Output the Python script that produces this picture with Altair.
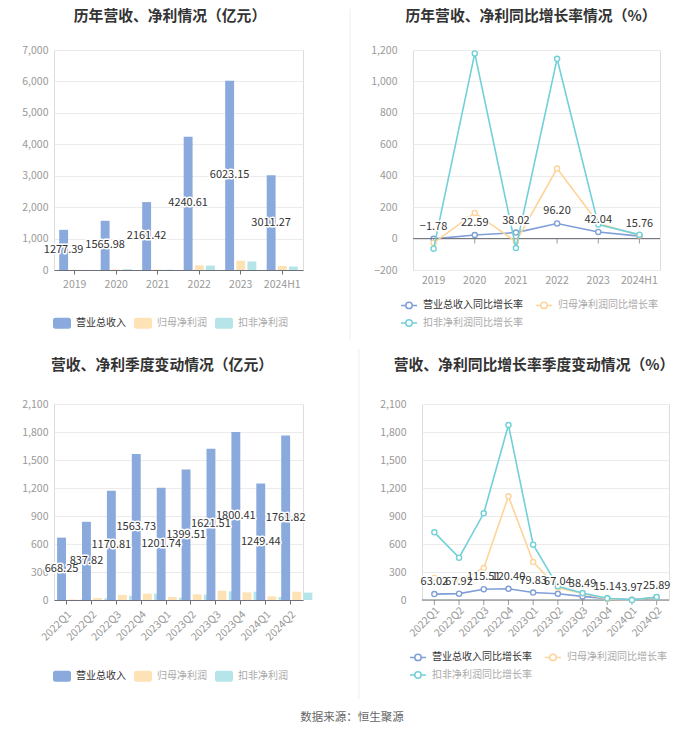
import altair as alt
import pandas as pd

FONT = "Noto Sans CJK SC"

# ---------------- data ----------------
years = ["2019", "2020", "2021", "2022", "2023", "2024H1"]
rev = [1277.39, 1565.98, 2161.42, 4240.61, 6023.15, 3011.27]
net_profit = [6.5, 17, 13, 150, 295, 130]
deducted_profit = [2.2, 28, 11, 140, 270, 110]

rev_growth = [-1.78, 22.59, 38.02, 96.20, 42.04, 15.76]
net_growth = [-28, 163, -20, 446, 97, 20]
deducted_growth = [-64, 1178, -60, 1144, 89, 25]

quarters = ["2022Q1", "2022Q2", "2022Q3", "2022Q4", "2023Q1",
            "2023Q2", "2023Q3", "2023Q4", "2024Q1", "2024Q2"]
q_rev = [668.25, 837.82, 1170.81, 1563.73, 1201.74, 1399.51, 1621.51, 1800.41, 1249.44, 1761.82]
q_net = [6, 21, 54, 68, 32, 61, 100, 82, 39, 89]
q_deducted = [3, 18, 46, 68, 25, 57, 93, 89, 32, 79]

q_rev_growth = [63.02, 67.92, 115.51, 120.40, 79.83, 67.04, 38.49, 15.14, 3.97, 25.89]
q_net_growth = [236, 200, 343, 1111, 407, 130, 70, 10, 0, 30]
q_deducted_growth = [725, 454, 929, 1875, 593, 146, 75, 18, 0, 32]

bar_series = ["营业总收入", "归母净利润", "扣非净利润"]
line_series = ["营业总收入同比增长率", "归母净利润同比增长率", "扣非净利润同比增长率"]
bar_colors = ["#8aa9dc", "#fde2b6", "#b5e5e8"]
line_colors = ["#7f9fd8", "#fdd49a", "#72d0d8"]

titles = ["历年营收、净利情况（亿元）", "历年营收、净利同比增长率情况（%）",
          "营收、净利季度变动情况（亿元）", "营收、净利同比增长率季度变动情况（%）"]
source_text = "数据来源：恒生聚源"

AXIS_GRAY = "#999999"
AXIS_LINE = "#6e7079"
GRID = "#ebebeb"

RECT_PATH = ("M-0.75,-0.62 H0.75 A0.25,0.25 0 0 1 1,-0.37 V0.37 A0.25,0.25 0 0 1 0.75,0.62 "
             "H-0.75 A0.25,0.25 0 0 1 -1,0.37 V-0.37 A0.25,0.25 0 0 1 -0.75,-0.62 Z")
LINE_PATH = ("M-1,0 H-0.4 M0.4,0 H1 M0.4,0 A0.4,0.4 0 1 1 -0.4,0 A0.4,0.4 0 1 1 0.4,0")

ONE = pd.DataFrame({"k": [0]})


def long_df(cats, names, arrays):
    rows = []
    for i, c in enumerate(cats):
        for s, arr in zip(names, arrays):
            rows.append({"cat": c, "series": s, "value": arr[i]})
    return pd.DataFrame(rows)


def title_mark(text, cx, y):
    return alt.Chart(ONE).mark_text(
        text=text, font=FONT, fontSize=14.8, fontWeight="bold", color="#333333",
        align="center", baseline="middle"
    ).encode(x=alt.value(cx), y=alt.value(y))


def separator(xpos, top, bottom, visible):
    return alt.Chart(ONE).mark_rule(
        color="#eeeeee", strokeWidth=1, opacity=1 if visible else 0
    ).encode(x=alt.value(xpos), y=alt.value(top), y2=alt.value(bottom))


def bar_panel(cats, arrays, title, ymax, ystep, w, h, label_angle, title_cx, title_y,
              legend_x, legend_y, pad_inner, off_pad, sep_top, sep_bottom):
    df = long_df(cats, bar_series, arrays)
    xenc = alt.X("cat:N", sort=cats,
                 scale=alt.Scale(paddingInner=pad_inner, paddingOuter=pad_inner / 2),
                 axis=alt.Axis(title=None, labelAngle=label_angle, labelColor=AXIS_GRAY,
                               labelFontSize=10.5, labelFont=FONT, labelPadding=5,
                               labelOverlap=False,
                               domainColor=AXIS_LINE, tickColor=AXIS_LINE, tickSize=4,
                               grid=False))
    yaxis = alt.Axis(title=None, values=list(range(0, ymax + 1, ystep)), format=",.0f",
                     labelColor=AXIS_GRAY, labelFontSize=10.5, labelFont=FONT,
                     labelOverlap=False,
                     labelPadding=6, domain=False, ticks=False, gridColor=GRID)
    yscale = alt.Scale(domain=[0, ymax], nice=False)
    xoff = alt.XOffset("series:N", sort=bar_series,
                       scale=alt.Scale(domain=bar_series, paddingInner=off_pad))
    legend = alt.Legend(orient="none", legendX=legend_x, legendY=legend_y,
                        direction="horizontal", title=None,
                        symbolType=RECT_PATH, symbolSize=324, symbolStrokeWidth=0,
                        labelFont=FONT, labelFontSize=10, labelOffset=5,
                        columnPadding=8,
                        labelColor=alt.ExprRef("datum.label === '营业总收入' ? '#333333' : '#aaaaaa'"))
    bars = alt.Chart(df).mark_bar().encode(
        x=xenc,
        y=alt.Y("value:Q", scale=yscale, axis=yaxis),
        xOffset=xoff,
        color=alt.Color("series:N", sort=bar_series,
                        scale=alt.Scale(domain=bar_series, range=bar_colors), legend=legend),
    )
    lab = alt.Chart(df).transform_filter(alt.datum.series == "营业总收入").transform_calculate(
        half="datum.value / 2", label="format(datum.value, '.2f')")
    enc = dict(x=xenc, xOffset=xoff, y=alt.Y("half:Q", scale=yscale, axis=yaxis), text="label:N")
    halo = lab.mark_text(font=FONT, fontSize=11, color="white", stroke="white",
                         strokeWidth=3, strokeJoin="round").encode(**enc)
    txt = lab.mark_text(font=FONT, fontSize=11, color="#333333").encode(**enc)
    return alt.layer(bars, halo, txt, title_mark(title, title_cx, title_y),
                     separator(0, sep_top, sep_bottom, False)).properties(width=w, height=h)


def line_panel(cats, arrays, title, ymin, ymax, ystep, w, h, label_angle, title_cx, title_y,
               legend_x, legend_y, sep_top, sep_bottom):
    df = long_df(cats, line_series, arrays)
    xenc = alt.X("cat:N", sort=cats, scale=alt.Scale(paddingInner=0, paddingOuter=0),
                 axis=alt.Axis(title=None, labelAngle=label_angle, labelColor=AXIS_GRAY,
                               labelFontSize=10.5, labelFont=FONT, labelPadding=5,
                               labelOverlap=False,
                               domain=False, ticks=False, grid=False))
    yaxis = alt.Axis(title=None, values=list(range(ymin, ymax + 1, ystep)), format=",.0f",
                     labelColor=AXIS_GRAY, labelFontSize=10.5, labelFont=FONT,
                     labelOverlap=False,
                     labelPadding=16, domain=False, ticks=False, gridColor=GRID)
    yscale = alt.Scale(domain=[ymin, ymax], nice=False)
    legend = alt.Legend(orient="none", legendX=legend_x, legendY=legend_y,
                        direction="horizontal", columns=2, title=None,
                        symbolType=LINE_PATH, symbolSize=256, symbolStrokeWidth=1.5,
                        symbolFillColor="white",
                        labelFont=FONT, labelFontSize=10, labelOffset=5,
                        columnPadding=10, rowPadding=2,
                        labelColor=alt.ExprRef("datum.label === '营业总收入同比增长率' ? '#333333' : '#aaaaaa'"))
    color = alt.Color("series:N", sort=line_series,
                      scale=alt.Scale(domain=line_series, range=line_colors), legend=legend)
    ydatum = alt.YDatum(0, scale=yscale, axis=yaxis)
    zero = alt.Chart(ONE).mark_rule(color=AXIS_LINE, strokeWidth=1).encode(y=ydatum)
    ticks = alt.Chart(pd.DataFrame({"cat": cats})).mark_tick(
        orient="vertical", size=5, thickness=1, color=AXIS_LINE, yOffset=2.5
    ).encode(x=xenc, y=ydatum)
    layers = []
    for s in line_series:
        layers.append(
            alt.Chart(df[df.series == s]).mark_line(
                strokeWidth=1.6,
                point=alt.OverlayMarkDef(filled=False, fill="white", size=26, strokeWidth=1.4),
            ).encode(x=xenc, y=alt.Y("value:Q", scale=yscale, axis=yaxis), color=color)
        )
    layers = [layers[0], zero, ticks] + layers[1:]
    lab = alt.Chart(df).transform_filter(alt.datum.series == line_series[0]).transform_calculate(
        label="format(datum.value, '.2f')")
    enc = dict(x=xenc, y=alt.Y("value:Q", scale=yscale, axis=yaxis), text="label:N")
    halo = lab.mark_text(font=FONT, fontSize=11, color="white", stroke="white",
                         strokeWidth=3, strokeJoin="round", dy=-12).encode(**enc)
    txt = lab.mark_text(font=FONT, fontSize=11, color="#333333", dy=-12).encode(**enc)
    layers += [halo, txt, title_mark(title, title_cx, title_y),
               separator(-63, sep_top, sep_bottom, True)]
    return alt.layer(*layers).properties(width=w, height=h)


tl = bar_panel(years, [rev, net_profit, deducted_profit], titles[0],
               7000, 1000, 249, 220, 0, 116, -33, -1, 264, 0.25, 0.2, -41, 291)
tr = line_panel(years, [rev_growth, net_growth, deducted_growth], titles[1],
                -200, 1200, 200, 247, 220, 0, 118, -33, -13, 246, -41, 291)
bl = bar_panel(quarters, [q_rev, q_net, q_deducted], titles[2],
               2100, 300, 249, 196, -45, 108, -38, -1, 263, 0.25, 0.2, -55, 295)
br = line_panel(quarters, [q_rev_growth, q_net_growth, q_deducted_growth], titles[3],
                0, 2100, 300, 247, 196, -45, 112, -38, -13, 244, -55, 295)

top_row = alt.hconcat(tl, tr, spacing=45).resolve_scale(color="independent")
bottom_row = alt.hconcat(bl, br, spacing=45).resolve_scale(color="independent")

chart = alt.vconcat(top_row, bottom_row, spacing=6).resolve_scale(
    color="independent"
).properties(
    title=alt.TitleParams(source_text, orient="bottom", anchor="middle",
                          font=FONT, fontSize=11.5, fontWeight="normal", color="#666666",
                          offset=12, dx=4),
    padding={"left": 13, "top": 0, "right": 0, "bottom": 0},
).configure_view(stroke=None).configure_axis(labelOverlap=False).configure(background="white")

chart.save("out.html", embed_options={"renderer": "svg", "actions": False})
